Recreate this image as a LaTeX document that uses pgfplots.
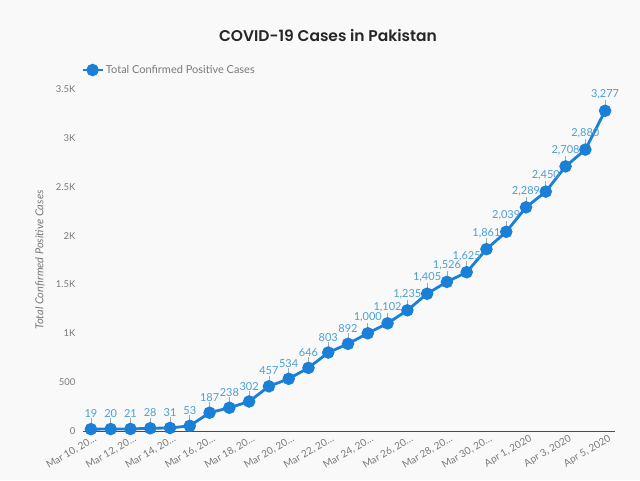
\documentclass[border=0pt]{standalone}
\usepackage{pgfplots}
\pgfplotsset{compat=1.18}
\usepackage{fontspec}
\setmainfont{Lato}
\newfontfamily\titlefont{Poppins SemiBold}
\definecolor{bg}{HTML}{F9F9F9}
\definecolor{lineblue}{HTML}{1A7FD6}
\definecolor{lblblue}{HTML}{4A9FD4}
\definecolor{txtgray}{HTML}{7A7A7A}
\begin{document}
\begin{tikzpicture}[x=1pt,y=1pt]
\path[fill=bg] (0,0) rectangle (640,480);
\node[font=\titlefont\fontsize{15.5}{18}\selectfont, text=black!85] at (328,445) {COVID-19 Cases in Pakistan};
\begin{axis}[
  at={(83pt,49pt)}, anchor=south west,
  width=532pt, height=342pt, scale only axis,
  xmin=-0.4, xmax=26.5, ymin=0, ymax=3500,
  clip=false,
  axis x line=bottom, axis y line=left,
  y axis line style={draw=none},
  x axis line style={-, draw=black!70, line width=0.9pt},
  major tick length=0pt,
  xtick={0,2,...,26},
  xticklabels={{Mar 10, 20…},{Mar 12, 20…},{Mar 14, 20…},{Mar 16, 20…},{Mar 18, 20…},{Mar 20, 20…},{Mar 22, 20…},{Mar 24, 20…},{Mar 26, 20…},{Mar 28, 20…},{Mar 30, 20…},{Apr 1, 2020},{Apr 3, 2020},{Apr 5, 2020}},
  xticklabel style={rotate=30, anchor=north east, font=\fontsize{10}{11}\selectfont, text=txtgray, xshift=4pt, yshift=-1pt},
  ytick={0,500,...,3500},
  yticklabels={0,500,1K,1.5K,2K,2.5K,3K,3.5K},
  yticklabel style={font=\fontsize{9.5}{10}\selectfont, text=txtgray, xshift=-4pt},
  ylabel={Total Confirmed Positive Cases},
  ylabel style={at={(axis description cs:-0.081,0.5)}, anchor=center, font=\itshape\fontsize{11}{12}\selectfont, text=txtgray},
  /pgf/number format/assume math mode=true,
  /pgf/number format/1000 sep={,},
  /pgf/number format/fixed, /pgf/number format/precision=0,
  legend style={at={(axis description cs:0,1)}, anchor=west, yshift=19pt, xshift=-2pt, draw=none, fill=none, inner sep=0pt, font=\fontsize{11}{12}\selectfont, text=txtgray},
  legend image code/.code={\draw[lineblue, line width=2.8pt] (0pt,0pt) -- (20pt,0pt); \fill[lineblue] (10pt,0pt) circle (4.8pt);},
]
\addplot[draw=none, forget plot, error bars/.cd, y dir=plus, y fixed=110, error mark=none, error bar style={draw=black!35, line width=0.6pt}] coordinates {
(0,19)(1,20)(2,21)(3,28)(4,31)(5,53)(6,187)(7,238)(8,302)(9,457)(10,534)(11,646)(12,803)(13,892)(14,1000)(15,1102)(16,1235)(17,1405)(18,1526)(19,1625)(20,1861)(21,2039)(22,2289)(23,2450)(24,2708)(25,2880)(26,3277)};
\addplot[lineblue, line width=2.8pt, mark=*, mark size=4.8pt, mark options={fill=lineblue, draw=none},
  nodes near coords, every node near coord/.append style={anchor=south, yshift=9pt, font=\fontsize{11}{12}\selectfont, text=lblblue, inner sep=1pt}] coordinates {
(0,19)(1,20)(2,21)(3,28)(4,31)(5,53)(6,187)(7,238)(8,302)(9,457)(10,534)(11,646)(12,803)(13,892)(14,1000)(15,1102)(16,1235)(17,1405)(18,1526)(19,1625)(20,1861)(21,2039)(22,2289)(23,2450)(24,2708)(25,2880)(26,3277)};
\addlegendentry{Total Confirmed Positive Cases}
\end{axis}
\end{tikzpicture}
\end{document}
